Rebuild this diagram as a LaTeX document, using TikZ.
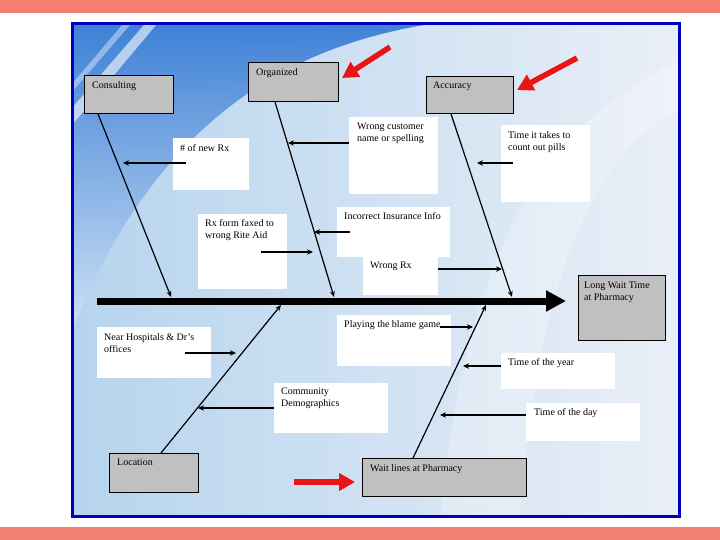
\documentclass[tikz,border=0pt]{standalone}
\usepackage{fontspec}
\setmainfont{Liberation Serif}
\usetikzlibrary{arrows.meta,calc}
\definecolor{salmon}{RGB}{243,128,115}
\definecolor{frameblue}{RGB}{0,0,190}
\definecolor{boxgray}{RGB}{192,192,192}
\definecolor{bgA}{RGB}{182,212,238}
\definecolor{bgB}{RGB}{234,239,247}
\definecolor{swA}{RGB}{50,120,212}
\definecolor{swB}{RGB}{208,227,246}
\definecolor{redarrow}{RGB}{235,20,20}
\tikzset{
 gbox/.style={draw=black, line width=0.9pt, fill=boxgray, anchor=north west, inner sep=0},
 wbox/.style={fill=white, anchor=north west, inner sep=0},
 txt/.style={anchor=north west, inner sep=0, align=left, font=\fontsize{10}{12}\selectfont},
 bone/.style={line width=1.2pt, -{Stealth[length=6pt,width=5pt]}},
 sub/.style={line width=1.5pt, -{Stealth[length=6pt,width=5.5pt]}},
 redarr/.style={draw=redarrow, line width=5.5pt, -{Triangle[length=16pt,width=17pt]}},
 spine/.style={line width=7pt, -{Triangle[length=20pt,width=20pt]}},
}
\begin{document}
\begin{tikzpicture}[x=1pt,y=-1pt]
\useasboundingbox (0,0) rectangle (720,540);
% background
\fill[white] (0,0) rectangle (720,540);
\fill[salmon] (0,0) rectangle (720,13);
\fill[salmon] (0,527) rectangle (720,540);
\shade[left color=bgA, right color=bgB] (72,24) rectangle (679,516);
\shade[top color=swA, bottom color=swB, opacity=0.9] (72,24) -- (430,24) .. controls (300,45) and (160,110) .. (72,330) -- cycle;
\fill[white, opacity=0.25] (679,60) .. controls (560,120) and (470,220) .. (440,516) -- (520,516) .. controls (540,260) and (600,150) .. (679,110) -- cycle;
\fill[white, opacity=0.6] (150,18) -- (162,18) -- (72,125) -- (72,108) -- cycle;
\fill[white, opacity=0.4] (128,18) -- (136,18) -- (72,92) -- (72,84) -- cycle;
\draw[frameblue, line width=3pt] (72,24) rectangle (679,516);

% gray boxes
\node[gbox, minimum width=89pt, minimum height=38pt] (cons) at (84,75) {};
\node[txt] (consT) at (92,81) {Consulting};
\node[gbox, minimum width=90pt, minimum height=39pt] (org) at (248,62) {};
\node[txt] (orgT) at (256,68) {Organized};
\node[gbox, minimum width=87pt, minimum height=37pt] (acc) at (426,76) {};
\node[txt] (accT) at (433,82) {Accuracy};
\node[gbox, minimum width=87pt, minimum height=65pt] (lwt) at (578,275) {};
\node[txt] (lwtT) at (584,282) {Long Wait Time\\at Pharmacy};
\node[gbox, minimum width=89pt, minimum height=39pt] (loc) at (109,453) {};
\node[txt] (locT) at (117,459) {Location};
\node[gbox, minimum width=164pt, minimum height=38pt] (wait) at (362,458) {};
\node[txt] (waitT) at (370,464) {Wait lines at Pharmacy};

% white boxes
\node[wbox, minimum width=76pt, minimum height=52pt] (nrx) at (173,138) {};
\node[txt] at (180,144) {\# of new Rx};
\node[wbox, minimum width=89pt, minimum height=77pt] (wcn) at (349,117) {};
\node[txt] at (357,123) {Wrong customer\\name or spelling};
\node[wbox, minimum width=89pt, minimum height=77pt] (tco) at (501,125) {};
\node[txt] at (508,131) {Time it takes to\\count out pills};
\node[wbox, minimum width=89pt, minimum height=75pt] (rxf) at (198,214) {};
\node[txt] at (205,219) {Rx form faxed to\\wrong Rite Aid};
\node[wbox, minimum width=113pt, minimum height=50pt] (iii) at (337,207) {};
\node[txt] at (344,212) {Incorrect Insurance Info};
\node[wbox, minimum width=75pt, minimum height=39pt] (wrx) at (363,256) {};
\node[txt] at (370,262) {Wrong Rx};
\node[wbox, minimum width=114pt, minimum height=51pt] (pbg) at (337,315) {};
\node[txt] at (344,320) {Playing the blame game.};
\node[wbox, minimum width=114pt, minimum height=51pt] (nhd) at (97,327) {};
\node[txt] at (104,333) {Near Hospitals \& Dr's\\offices};
\node[wbox, minimum width=114pt, minimum height=50pt] (cdm) at (274,383) {};
\node[txt] at (281,388) {Community\\Demographics};
\node[wbox, minimum width=114pt, minimum height=36pt] (toy) at (501,353) {};
\node[txt] at (508,358) {Time of the year};
\node[wbox, minimum width=114pt, minimum height=38pt] (tod) at (526,403) {};
\node[txt] at (534,408) {Time of the day};

% spine
\coordinate (sp0) at (97,301);
\coordinate (sp1) at (566,301);
\draw[spine] (sp0) -- (sp1);

% bone ends on spine
\coordinate (b1) at (171,297);
\coordinate (b2) at (334,297);
\coordinate (b3) at (512,297);
\coordinate (b4) at (281,305);
\coordinate (b5) at (486,305);
\draw[bone] ([xshift=14pt]cons.south west) -- (b1);
\draw[bone] ([xshift=27pt]org.south west) -- (b2);
\draw[bone] ([xshift=25pt]acc.south west) -- (b3);
\draw[bone] ([xshift=52pt]loc.north west) -- (b4);
\draw[bone] ([xshift=51pt]wait.north west) -- (b5);

% cause arrows
\coordinate (t1) at (123,163);
\coordinate (t2) at (288,143);
\coordinate (t3) at (477,163);
\coordinate (t4) at (314,232);
\coordinate (t5) at (313,252);
\coordinate (t6) at (502,269);
\coordinate (t7) at (473,327);
\coordinate (t8) at (463,366);
\coordinate (t9) at (236,353);
\coordinate (t10) at (198,408);
\coordinate (t11) at (440,415);
\draw[sub] ([shift={(13,25)}]nrx.north west) -- (t1);
\draw[sub] ([shift={(0,26)}]wcn.north west) -- (t2);
\draw[sub] ([shift={(12,38)}]tco.north west) -- (t3);
\draw[sub] ([shift={(13,25)}]iii.north west) -- (t4);
\draw[sub] ([shift={(63,38)}]rxf.north west) -- (t5);
\draw[sub] ([shift={(0,13)}]wrx.north east) -- (t6);
\draw[sub] ([shift={(103,12)}]pbg.north west) -- (t7);
\draw[sub] ([shift={(0,13)}]toy.north west) -- (t8);
\draw[sub] ([shift={(88,26)}]nhd.north west) -- (t9);
\draw[sub] ([shift={(0,25)}]cdm.north west) -- (t10);
\draw[sub] ([shift={(0,12)}]tod.north west) -- (t11);

% red arrows
\coordinate (r1a) at (390,47);
\coordinate (r1b) at (342,78);
\coordinate (r2a) at (577,58);
\coordinate (r2b) at (517,90);
\coordinate (r3a) at (294,482);
\coordinate (r3b) at (355,482);
\draw[redarr] (r1a) -- (r1b);
\draw[redarr] (r2a) -- (r2b);
\draw[redarr] (r3a) -- (r3b);
\end{tikzpicture}
\end{document}
